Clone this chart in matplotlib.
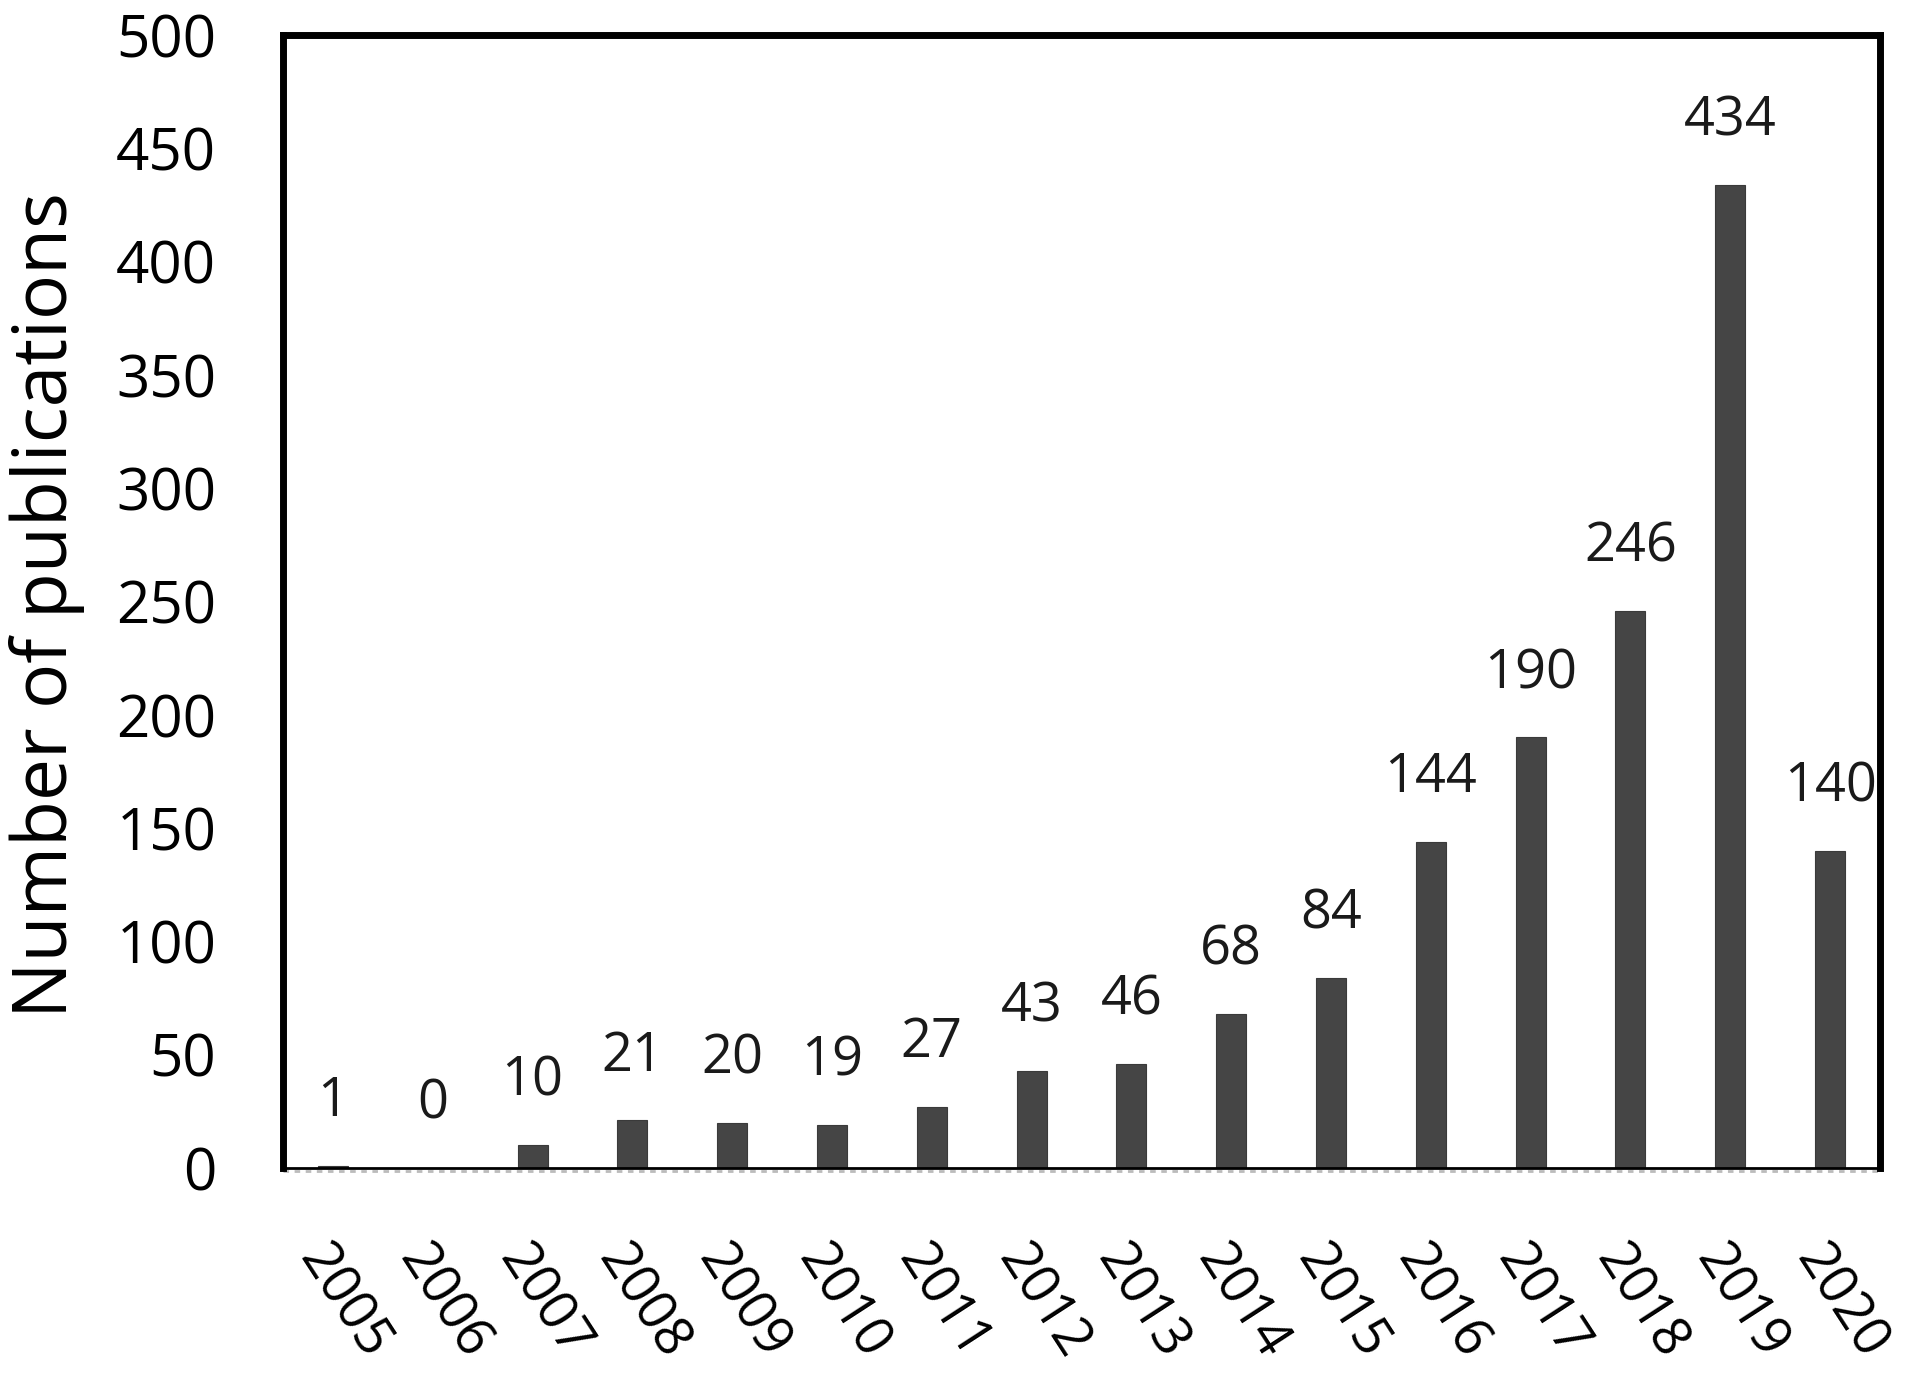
import matplotlib.pyplot as plt

# data
years = ['2005', '2006', '2007', '2008', '2009', '2010', '2011', '2012',
         '2013', '2014', '2015', '2016', '2017', '2018', '2019', '2020']
counts = [1, 0, 10, 21, 20, 19, 27, 43, 46, 68, 84, 144, 190, 246, 434, 140]
yticks = [0, 50, 100, 150, 200, 250, 300, 350, 400, 450, 500]

plt.rcParams['font.family'] = ['Open Sans', 'DejaVu Sans']

fig = plt.figure(figsize=(19.2, 13.75), dpi=100)
ax = fig.add_axes([283 / 1920, 1 - 1168 / 1375, (1880 - 283) / 1920, (1168 - 35) / 1375])

x = list(range(len(years)))
ax.bar(x, counts, width=0.3, color='#454545', edgecolor='#3a3a3a', linewidth=0.8, zorder=2)

# value labels above the bars
for xi, v in zip(x, counts):
    ax.annotate(str(v), (xi, v), xytext=(0, 46), textcoords='offset points',
                ha='center', va='center', fontsize=39, color='#1a1a1a')

ax.set_xlim(-0.5, len(years) - 0.5)
ax.set_ylim(0, 500)
ax.set_yticks(yticks)
ax.set_yticklabels([str(t) for t in yticks], fontsize=42)
ax.set_xticks(x)
ax.set_xticklabels(years, fontsize=39, rotation=-57, ha='left', va='top',
                   rotation_mode='anchor')
ax.tick_params(axis='y', length=0, pad=48)
ax.tick_params(axis='x', length=0, pad=48)

ax.set_ylabel('Number of publications', fontsize=54)
ax.yaxis.label.set_va('center')
ax.yaxis.set_label_coords(-0.148, 0.497)

for side in ['left', 'top', 'right']:
    ax.spines[side].set_linewidth(5)
    ax.spines[side].set_color('black')
ax.spines['bottom'].set_linewidth(2)
ax.spines['bottom'].set_color('black')
ax.axhline(-1.5, color='#bbbbbb', linewidth=2, linestyle=(0, (2, 2)), clip_on=False, zorder=1)

fig.savefig('out.png', dpi=100)
